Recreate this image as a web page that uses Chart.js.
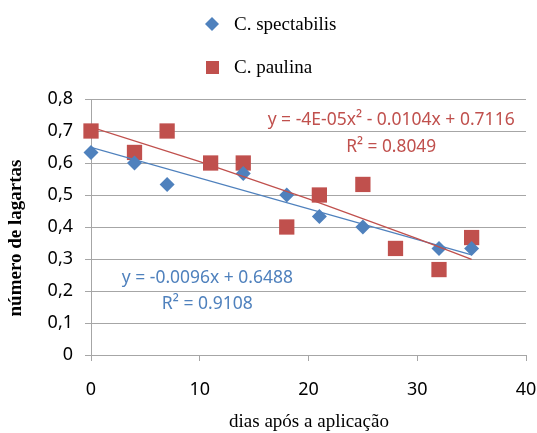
<!DOCTYPE html>
<html>
<head>
<meta charset="utf-8">
<script src="https://cdn.jsdelivr.net/npm/chart.js@4.4.1/dist/chart.umd.min.js"></script>
<style>
  html, body { margin: 0; padding: 0; background: #fff; }
  #wrap { width: 537px; height: 433px; position: relative; }
</style>
</head>
<body>
<div id="wrap"><canvas id="chart"></canvas></div>
<script>
// days after application
var diasSpect = [0, 4, 7, 14, 18, 21, 25, 32, 35];
var lagartasSpect = [0.633, 0.6, 0.533, 0.567, 0.5, 0.433, 0.4, 0.333, 0.333];

var diasPaul = [0, 4, 7, 11, 14, 18, 21, 25, 28, 32, 35];
var lagartasPaul = [0.7, 0.633, 0.7, 0.6, 0.6, 0.4, 0.5, 0.533, 0.333, 0.267, 0.367];

// trend lines
var trendSpectX = [0, 35];
var trendSpectY = [0.649, 0.313];
var trendPaulX = [0, 10, 20, 30, 35];
var trendPaulY = [0.712, 0.604, 0.488, 0.364, 0.299];

var xTicks = [0, 10, 20, 30, 40];
var yTicks = [0, 0.1, 0.2, 0.3, 0.4, 0.5, 0.6, 0.7, 0.8];

var seriesNames = ['C. spectabilis', 'C. paulina'];
var eqSpect = ['y = -0.0096x + 0.6488', 'R² = 0.9108'];
var eqPaul = ['y = -4E-05x² - 0.0104x + 0.7116', 'R² = 0.8049'];

var BLUE = '#4f81bd';
var RED = '#c0504d';
var GRID = '#a6a6a6';

function pts(xs, ys) {
    return xs.map(function(x, i) { return { x: x, y: ys[i] }; });
}

// legend, axis titles and equations
var extras = {
    id: 'extras',
    afterDraw: function(chart) {
        var ctx = chart.ctx;
        var xs = chart.scales.x, ys = chart.scales.y;
        ctx.save();

        // legend
        ctx.fillStyle = BLUE;
        ctx.beginPath();
        ctx.moveTo(212, 17); ctx.lineTo(219, 24); ctx.lineTo(212, 31); ctx.lineTo(205, 24);
        ctx.closePath();
        ctx.fill();
        ctx.fillStyle = RED;
        ctx.fillRect(206, 61, 13, 13);
        ctx.fillStyle = '#000';
        ctx.font = '19px "Liberation Serif"';
        ctx.textAlign = 'left';
        ctx.textBaseline = 'middle';
        ctx.fillText(seriesNames[0], 234, 25);
        ctx.fillText(seriesNames[1], 234, 68);

        // axis titles
        ctx.textAlign = 'center';
        ctx.fillText('dias após a aplicação', 309, 422);
        ctx.save();
        ctx.translate(16, 238);
        ctx.rotate(-Math.PI / 2);
        ctx.font = 'bold 19px "Liberation Serif"';
        ctx.fillText('número de lagartas', 0, 0);
        ctx.restore();

        // trendline equations
        ctx.font = '18px "Noto Sans"';
        ctx.fillStyle = RED;
        ctx.fillText(eqPaul[0], xs.getPixelForValue(27.6), ys.getPixelForValue(0.736), 247);
        ctx.fillText(eqPaul[1], xs.getPixelForValue(27.6), ys.getPixelForValue(0.651), 90);
        ctx.fillStyle = BLUE;
        ctx.fillText(eqSpect[0], xs.getPixelForValue(10.7), ys.getPixelForValue(0.240), 171);
        ctx.fillText(eqSpect[1], xs.getPixelForValue(10.7), ys.getPixelForValue(0.159), 91);
        ctx.restore();
    }
};

new Chart(document.getElementById('chart'), {
    type: 'scatter',
    data: {
        datasets: [{
            label: seriesNames[0],
            data: pts(diasSpect, lagartasSpect),
            backgroundColor: BLUE,
            borderColor: BLUE,
            pointStyle: 'rectRot',
            pointRadius: 7.5,
            pointHoverRadius: 7.5,
            borderWidth: 0,
            clip: false,
            order: 2
        }, {
            label: seriesNames[1],
            data: pts(diasPaul, lagartasPaul),
            backgroundColor: RED,
            borderColor: RED,
            pointStyle: 'rect',
            pointRadius: 10.8,
            pointHoverRadius: 10.8,
            borderWidth: 0,
            clip: false,
            order: 3
        }, {
            label: 'trend spect',
            data: pts(trendSpectX, trendSpectY),
            showLine: true,
            borderColor: BLUE,
            borderWidth: 1.3,
            pointRadius: 0,
            fill: false,
            order: 1
        }, {
            label: 'trend paul',
            data: pts(trendPaulX, trendPaulY),
            showLine: true,
            borderColor: RED,
            borderWidth: 1.3,
            pointRadius: 0,
            fill: false,
            order: 0
        }]
    },
    options: {
        responsive: true,
        maintainAspectRatio: false,
        animation: false,
        layout: { padding: { top: 99, right: 0, left: 0, bottom: 0 } },
        plugins: {
            legend: { display: false },
            tooltip: { enabled: false }
        },
        scales: {
            x: {
                type: 'linear',
                min: 0,
                max: 40,
                afterFit: function(s) { s.height = 78; s.paddingRight = 11; },
                afterBuildTicks: function(s) { s.ticks = xTicks.map(function(v) { return { value: v }; }); },
                grid: { drawOnChartArea: false, drawTicks: true, tickLength: 6, color: GRID },
                border: { color: GRID, width: 1 },
                ticks: {
                    padding: 18,
                    color: '#000',
                    font: { family: '"Noto Sans"', size: 18 }
                }
            },
            y: {
                min: 0,
                max: 0.8,
                afterFit: function(s) { s.width = 91; },
                afterBuildTicks: function(s) { s.ticks = yTicks.map(function(v) { return { value: v }; }); },
                grid: { color: GRID, tickLength: 6 },
                border: { color: GRID, width: 1 },
                ticks: {
                    padding: 12,
                    color: '#000',
                    font: { family: '"Noto Sans"', size: 18 },
                    callback: function(v) { return v === 0 ? '0' : v.toFixed(1).replace('.', ','); }
                }
            }
        }
    },
    plugins: [extras]
});
</script>
</body>
</html>
